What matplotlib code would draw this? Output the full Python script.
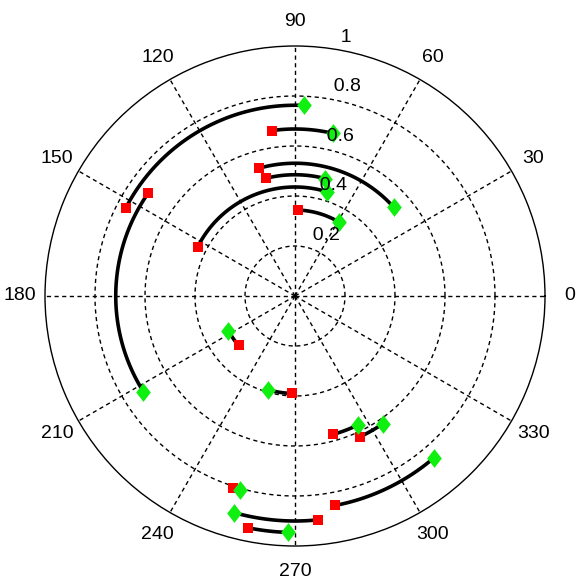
import matplotlib.pyplot as plt
import numpy as np

plt.rcParams['font.family'] = ['Liberation Sans', 'DejaVu Sans']

# arcs: radius, start angle (red square), end angle (green diamond), degrees
arc_r = [0.763, 0.668, 0.531, 0.485, 0.436, 0.344, 0.717, 0.300,
         0.390, 0.574, 0.620, 0.853, 0.808, 0.900, 0.946]
start_deg = [152.5, 98.0, 105.6, 104.0, 153.2, 88.2, 145.0, 221.2,
             268.1, 285.5, 294.6, 280.9, 252.2, 275.8, 258.5]
end_deg = [87.3, 76.8, 41.9, 75.6, 72.9, 58.9, 212.2, 207.5,
           254.1, 296.1, 304.6, 310.6, 254.2, 254.3, 268.4]

r_ticks = [0.2, 0.4, 0.6, 0.8, 1.0]
r_labels = ['0.2', '0.4', '0.6', '0.8', '1']
theta_ticks = list(range(0, 360, 30))

fig = plt.figure(figsize=(5.85, 5.85), dpi=100)
ax = fig.add_axes([45 / 585, 39 / 585, 500 / 585, 500 / 585], projection='polar')
ax.set_ylim(0, 1)
ax.grid(False)
ax.set_xticks([])
ax.set_yticks([])
ax.spines['polar'].set_linewidth(1.0)
ax.spines['polar'].set_color('black')

# dashed grid circles and spokes
t = np.linspace(0, 2 * np.pi, 400)
for r in r_ticks[:-1]:
    ax.plot(t, np.full_like(t, r), color='black', lw=1.0, ls=(0, (3, 2.5)))
for a in theta_ticks:
    th = np.deg2rad(a)
    ax.plot([th, th], [0, 1], color='black', lw=1.0, ls=(0, (3, 2.5)))

# radial labels, MATLAB style at 82 degrees
for r, lab in zip(r_ticks, r_labels):
    ax.text(np.deg2rad(82), r + 0.01, '  ' + lab, ha='left', va='bottom',
            fontsize=14, clip_on=False)
# angle labels
for a in theta_ticks:
    ax.text(np.deg2rad(a), 1.1, str(a), ha='center', va='center',
            fontsize=14, clip_on=False)

# arcs and end markers
diamond = [(0, 1), (0.78, 0), (0, -1), (-0.78, 0), (0, 1)]
for r, s, e in zip(arc_r, start_deg, end_deg):
    th = np.deg2rad(np.linspace(s, e, 100))
    ax.plot(th, np.full_like(th, r), color='black', lw=2.6, solid_capstyle='butt')
ax.plot(np.deg2rad(start_deg), arc_r, 's', color='red', mew=0, ms=6.8, ls='none')
ax.plot(np.deg2rad(end_deg), arc_r, marker=diamond, color='#10f010', mew=0,
        ms=13.5, ls='none')

fig.savefig('out.png', dpi=100)
